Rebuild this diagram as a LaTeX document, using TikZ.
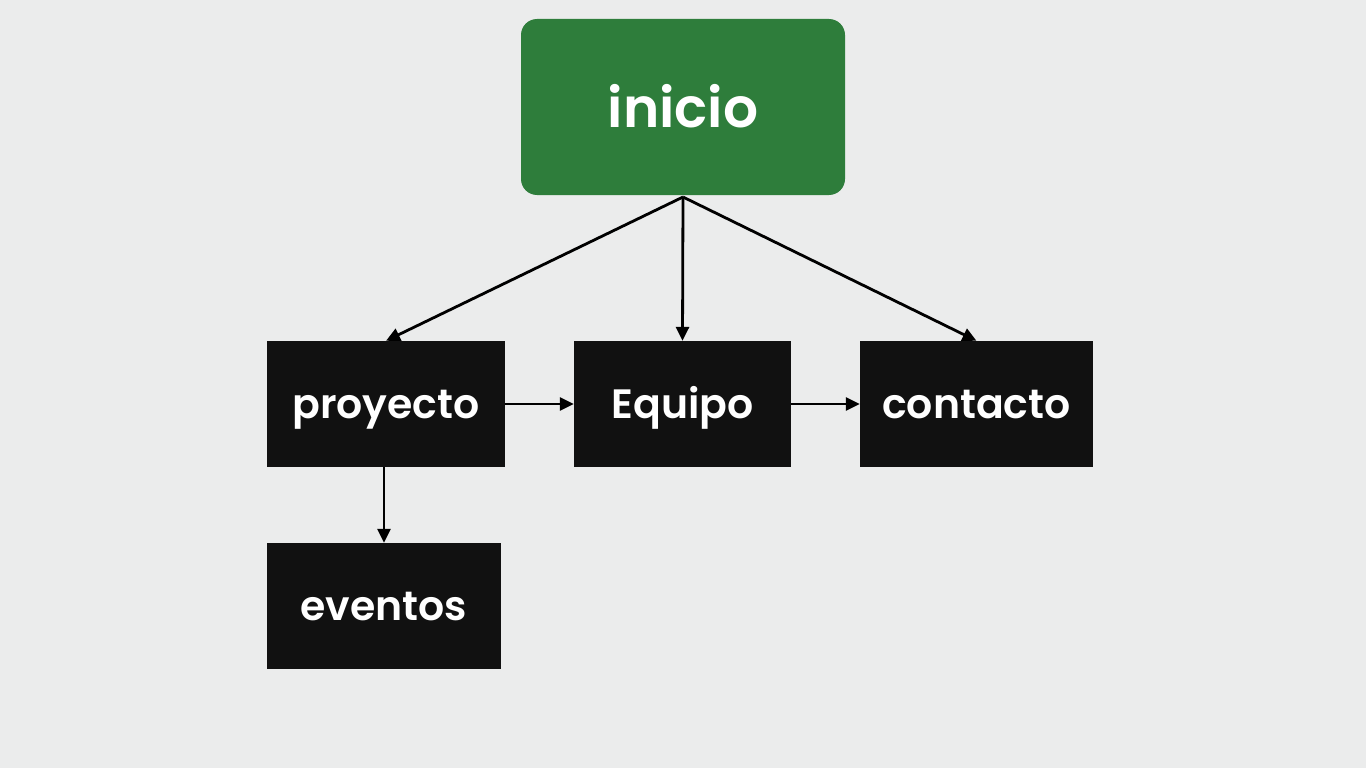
\documentclass[tikz,border=0pt]{standalone}
\usepackage{fontspec}
\setmainfont{Poppins}[BoldFont={Poppins SemiBold}]
\usetikzlibrary{arrows.meta}
\definecolor{fondo}{HTML}{EBECEC}
\definecolor{verde}{HTML}{2E7D3B}
\definecolor{caja}{HTML}{111111}
\begin{document}
\begin{tikzpicture}[x=1pt,y=-1pt,
  pagina/.style={fill=caja,text=white,minimum height=126pt,inner sep=0pt,
    text height=29pt,text depth=0pt,font=\fontsize{41}{48}\selectfont\bfseries},
  flecha/.style={-{Triangle[length=14pt,width=13pt]},line width=2.8pt}]
\fill[fondo] (0,0) rectangle (1366,768);
\node [fill=verde,rounded corners=16pt,text=white,minimum width=324pt,minimum height=176pt,
  text height=40pt,text depth=0pt,font=\fontsize{55}{64}\selectfont\bfseries,name=inicio] at (683,107){inicio};
\node [pagina,minimum width=238pt,name=proyecto] at (386,404){proyecto};
\node [pagina,minimum width=217pt,name=equipo] at (682.5,404){Equipo};
\node [pagina,minimum width=233pt,name=contacto] at (976.5,404){contacto};
\node [pagina,minimum width=234pt,name=eventos] at (384,606){eventos};
\coordinate (raiz) at (683,197);
\draw[flecha] (raiz)--(proyecto.north);
\draw[flecha] (raiz)--(equipo.north);
\draw[flecha] (raiz)--(contacto.north);
\draw[flecha] (proyecto)--(equipo);
\draw[flecha] (equipo)--(contacto);
\draw[flecha] (proyecto.south-|eventos)--(eventos);
\end{tikzpicture}
\end{document}
